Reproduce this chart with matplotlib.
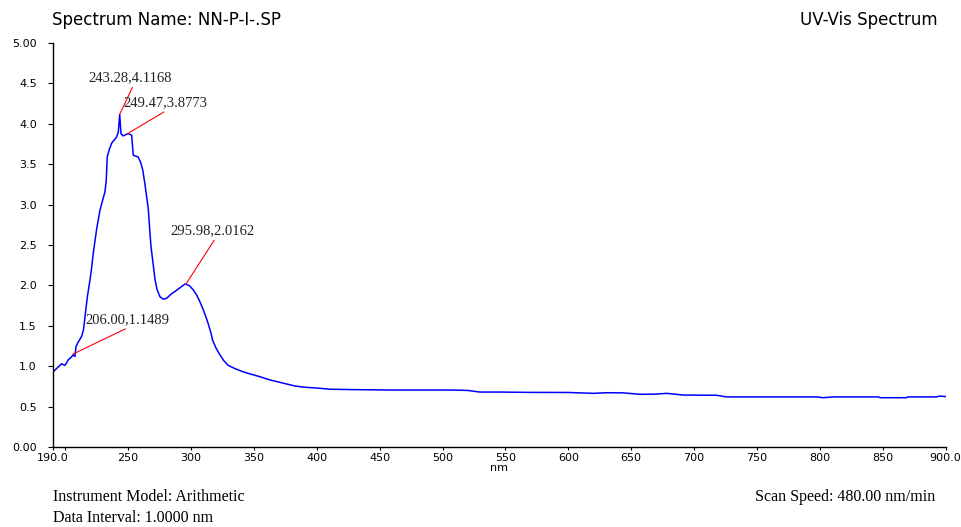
import numpy as np
import matplotlib.pyplot as plt

# spectrum
wavelength = [190, 191, 193, 195.8, 197, 199.8, 201, 202.4, 204, 206.4, 207.7, 208.5, 210,
              211.2, 213, 214.5, 215.7, 217.5, 219.7, 221, 222.3, 225, 227.6, 229.5, 231.6,
              232.6, 233.4, 235, 236.9, 239, 240.9, 242.2, 243.3, 244.3, 246, 247.5, 249.5,
              251.5, 252.8, 254.1, 256, 258, 260, 261.6, 263.4, 264.7, 266, 267.4, 268.2,
              270, 271.4, 273, 275.3, 277.9, 280.6, 284, 288.6, 292, 295.2, 297, 299.2,
              302, 304.5, 307, 309.7, 313, 315.9, 317.2, 320, 323, 326, 329.6, 335, 341.5,
              348, 354.8, 362.8, 370.7, 376, 382.7, 390, 399.9, 410.5, 430, 460.8, 480,
              508.5, 520, 529.7, 545.6, 568.2, 600, 619.8, 630.5, 643.7, 657, 670, 678.2,
              691.4, 717.9, 725.9, 760, 797.5, 802.7, 810.7, 846.5, 848, 869, 870, 892.8,
              895, 900]
absorbance = [0.92, 0.94, 0.97, 1.01, 1.03, 1.01, 1.04, 1.08, 1.10, 1.14, 1.12, 1.24, 1.29,
              1.32, 1.37, 1.45, 1.61, 1.85, 2.07, 2.22, 2.40, 2.70, 2.93, 3.04, 3.16,
              3.30, 3.59, 3.68, 3.76, 3.80, 3.84, 3.90, 4.1168, 3.88, 3.85, 3.86, 3.8773,
              3.87, 3.86, 3.61, 3.60, 3.59, 3.52, 3.43, 3.25, 3.10, 2.95, 2.64, 2.48,
              2.25, 2.07, 1.95, 1.86, 1.83, 1.84, 1.89, 1.94, 1.98, 2.0162, 2.01, 1.99,
              1.94, 1.88, 1.80, 1.70, 1.56, 1.41, 1.32, 1.22, 1.14, 1.07, 1.01, 0.97, 0.93,
              0.90, 0.87, 0.83, 0.80, 0.78, 0.755, 0.74, 0.73, 0.715, 0.71, 0.705, 0.705,
              0.705, 0.70, 0.68, 0.68, 0.676, 0.675, 0.664, 0.672, 0.67, 0.652, 0.655, 0.664,
              0.643, 0.64, 0.62, 0.62, 0.62, 0.61, 0.62, 0.62, 0.61, 0.61, 0.62, 0.62,
              0.63, 0.625]

# picked peaks and where their labels sit (offset in points from the peak)
peak_x = [243.28, 249.47, 295.98, 206.00]
peak_y = [4.1168, 3.8773, 2.0162, 1.1489]
label_offsets = [(7.7, 21.4), (27.1, 17.6), (19.2, 33.6), (39.6, 20.2)]

x_ticks = [200, 250, 300, 350, 400, 450, 500, 550, 600, 650, 700, 750, 800, 850]
y_ticks = [0.0, 0.5, 1.0, 1.5, 2.0, 2.5, 3.0, 3.5, 4.0, 4.5, 5.0]
y_labels = ['0.00', '0.5', '1.0', '1.5', '2.0', '2.5', '3.0', '3.5', '4.0', '4.5', '5.00']

sans = 'DejaVu Sans'
serif = 'Liberation Serif'

fig = plt.figure(figsize=(9.61, 5.27), dpi=100)
ax = fig.add_axes([0.0548, 0.1518, 0.9292, 0.7666])

ax.plot(wavelength, absorbance, color='#0000ff', linewidth=1.1)

for px, py, (dx, dy) in zip(peak_x, peak_y, label_offsets):
    ax.annotate('%.2f,%.4f' % (px, py), xy=(px, py), xytext=(dx, dy),
                textcoords='offset points', ha='center', va='bottom',
                fontsize=10.5, family=serif, color='#222222',
                arrowprops=dict(arrowstyle='-', color='red', linewidth=0.8,
                                shrinkA=0, shrinkB=0, relpos=(0.54, 0.0)))

ax.set_xlim(190, 900)
ax.set_ylim(0, 5)
ax.set_xticks([190] + x_ticks + [900])
ax.set_xticklabels(['190.0', ''] + [str(t) for t in x_ticks[1:]] + ['900.0'])
ax.set_yticks(y_ticks)
ax.set_yticklabels(y_labels)
ax.tick_params(axis='x', length=2.5, width=0.8, pad=2, labelsize=8)
ax.tick_params(axis='y', length=3.5, width=0.8, pad=8, labelsize=8)
for lab in ax.get_xticklabels() + ax.get_yticklabels():
    lab.set_family(sans)

ax.spines['top'].set_visible(False)
ax.spines['right'].set_visible(False)
ax.spines['left'].set_linewidth(1.0)
ax.spines['bottom'].set_linewidth(1.0)
ax.set_xlabel('nm', fontsize=8, family=sans, labelpad=0)

fig.text(0.054, 0.962, 'Spectrum Name: NN-P-I-.SP', fontsize=12, family=sans,
         ha='left', va='center')
fig.text(0.976, 0.962, 'UV-Vis Spectrum', fontsize=12, family=sans,
         ha='right', va='center')
fig.text(0.055, 0.056, 'Instrument Model: Arithmetic', fontsize=11.5, family=serif,
         ha='left', va='center')
fig.text(0.055, 0.002, 'Data Interval: 1.0000 nm', fontsize=11.5, family=serif,
         ha='left', va='bottom')
fig.text(0.973, 0.056, 'Scan Speed: 480.00 nm/min', fontsize=11.5, family=serif,
         ha='right', va='center')

fig.savefig('out.png', dpi=100)
